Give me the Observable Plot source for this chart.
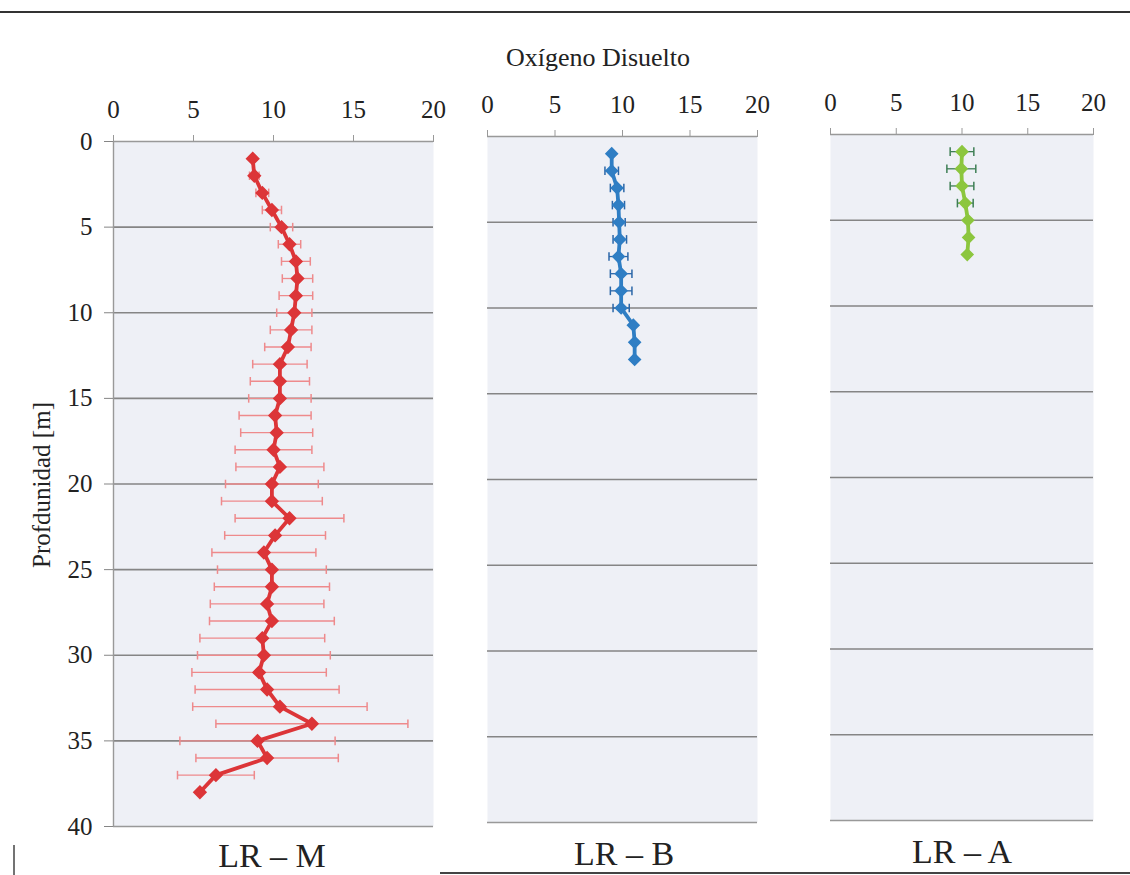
<!DOCTYPE html>
<html>
<head>
<meta charset="utf-8">
<script src="https://cdn.jsdelivr.net/npm/d3@7"></script>
<script src="https://cdn.jsdelivr.net/npm/@observablehq/plot@0.6"></script>
<style>
  html, body { margin: 0; padding: 0; background: #fff; }
  #wrap { position: relative; width: 1130px; height: 875px; overflow: hidden; font-family: "Liberation Serif", "DejaVu Serif", serif; color: #222; }
  #wrap svg { position: absolute; top: 0; }
  #wrap svg text { font-family: "Liberation Serif", serif; }
  .lbl { position: absolute; white-space: nowrap; transform: translate(-50%, -50%); }
</style>
</head>
<body>
<div id="wrap"></div>
<script>
// ---- data ----
const title = "Oxígeno Disuelto";
const yLabel = "Profdunidad [m]";
const panelNames = ["LR – M", "LR – B", "LR – A"];
const xTicks = [0, 5, 10, 15, 20];
const yTicks = [0, 5, 10, 15, 20, 25, 30, 35, 40];
const gridDepths = [5, 10, 15, 20, 25, 30, 35];

const depthM = [1,2,3,4,5,6,7,8,9,10,11,12,13,14,15,16,17,18,19,20,21,22,23,24,25,26,27,28,29,30,31,32,33,34,35,36,37,38];
const valueM = [8.7,8.8,9.3,9.9,10.5,11.0,11.4,11.5,11.4,11.3,11.1,10.9,10.4,10.4,10.4,10.1,10.2,10.0,10.4,9.9,9.9,11.0,10.1,9.4,9.9,9.9,9.6,9.9,9.3,9.4,9.1,9.6,10.4,12.4,9.0,9.6,6.4,5.4];
const errM   = [0,0.3,0.4,0.6,0.7,0.7,0.9,0.95,1.05,1.1,1.3,1.45,1.7,1.85,1.95,2.25,2.25,2.4,2.75,2.9,3.15,3.4,3.15,3.25,3.4,3.6,3.55,3.9,3.9,4.15,4.2,4.5,5.45,6.0,4.85,4.45,2.4,0];

const depthB = [1,2,3,4,5,6,7,8,9,10,11,12,13];
const valueB = [9.2,9.2,9.6,9.7,9.75,9.8,9.7,9.9,9.9,9.9,10.8,10.9,10.9];
const errB   = [0,0.5,0.5,0.45,0.45,0.5,0.7,0.8,0.8,0.6,0,0,0];

const depthA = [1,2,3,4,5,6,7];
const valueA = [10.0,9.95,10.0,10.25,10.45,10.5,10.4];
const errA   = [0.9,1.1,0.9,0.6,0,0,0];

const wrap = document.getElementById("wrap");
const serif = "Liberation Serif";

function panel(cfg) {
  const rows = cfg.depths.map((d, i) => ({depth: d, value: cfg.values[i], err: cfg.errs[i]}));
  const eb = rows.filter(r => r.err > 0);
  const marks = [
    Plot.frame({fill: "#eef0f6", stroke: null}),
    Plot.ruleY(gridDepths, {stroke: "#858585", strokeWidth: 1.6}),
    Plot.ruleY([0, 40], {stroke: "#999", strokeWidth: 1.4}),
    Plot.axisX(xTicks, {anchor: "top", tickSize: 7, tickPadding: 17, stroke: "#999", fill: "#222", fontSize: 25, fontFamily: serif, label: null})
  ];
  if (cfg.yAxis) {
    marks.push(Plot.ruleX([0], {stroke: "#999", strokeWidth: 1.4}));
    marks.push(Plot.axisY(yTicks, {anchor: "left", tickSize: 9, tickPadding: 12, stroke: "#858585", fill: "#222", fontSize: 25, fontFamily: serif, label: null}));
  }
  marks.push(
    Plot.link(eb, {x1: r => r.value - r.err, x2: r => r.value + r.err, y1: "depth", y2: "depth", stroke: cfg.errColor, strokeWidth: 1.3}),
    Plot.link(eb, {x1: r => r.value - r.err, x2: r => r.value - r.err, y1: r => r.depth - 0.25, y2: r => r.depth + 0.25, stroke: cfg.errColor, strokeWidth: 1.5}),
    Plot.link(eb, {x1: r => r.value + r.err, x2: r => r.value + r.err, y1: r => r.depth - 0.25, y2: r => r.depth + 0.25, stroke: cfg.errColor, strokeWidth: 1.5}),
    Plot.line(rows, {x: "value", y: "depth", stroke: cfg.color, strokeWidth: 3.8}),
    Plot.dot(rows, {x: "value", y: "depth", symbol: "diamond2", r: cfg.r, fill: cfg.color, stroke: cfg.color})
  );
  const svg = Plot.plot({
    width: cfg.width, height: 875,
    marginLeft: cfg.ml, marginRight: cfg.mr, marginTop: cfg.mt, marginBottom: cfg.mb,
    x: {domain: [0, 20], axis: null},
    y: {domain: [0, 40], reverse: true, axis: null},
    style: {fontFamily: serif, fontSize: "25px", background: "transparent", color: "#222", overflow: "visible"},
    marks
  });
  svg.style.left = cfg.left + "px";
  wrap.appendChild(svg);
}

panel({depths: depthM, values: valueM, errs: errM, color: "#dc3538", errColor: "#ee8a8c", r: 5.5,
       left: 0, width: 450, ml: 113, mr: 17, mt: 141, mb: 49, yAxis: true});
panel({depths: depthB, values: valueB, errs: errB, color: "#2f7ec4", errColor: "#2a66a8", r: 5.2,
       left: 450, width: 340, ml: 37, mr: 33, mt: 136, mb: 53, yAxis: false});
panel({depths: depthA, values: valueA, errs: errA, color: "#8cc63e", errColor: "#3e7f55", r: 5.2,
       left: 790, width: 340, ml: 40, mr: 37, mt: 134, mb: 55, yAxis: false});

function label(text, x, y, size, rotate) {
  const d = document.createElement("div");
  d.className = "lbl";
  d.textContent = text;
  d.style.left = x + "px";
  d.style.top = y + "px";
  d.style.fontSize = size + "px";
  if (rotate) d.style.transform = "translate(-50%, -50%) rotate(-90deg)";
  wrap.appendChild(d);
}
label(title, 598, 58, 26);
label(yLabel, 42, 485, 25, true);
label(panelNames[0], 272, 856, 34);
label(panelNames[1], 624, 854, 34);
label(panelNames[2], 962, 852, 34);

// decorative page rules from the scanned page
const deco = d3.select(wrap).append("svg").attr("width", 1130).attr("height", 875).style("left", "0px").style("pointer-events", "none");
deco.append("line").attr("x1", 0).attr("x2", 1130).attr("y1", 12).attr("y2", 12).attr("stroke", "#333").attr("stroke-width", 2);
deco.append("line").attr("x1", 440).attr("x2", 1130).attr("y1", 873).attr("y2", 873).attr("stroke", "#444").attr("stroke-width", 2);
deco.append("line").attr("x1", 14).attr("x2", 14).attr("y1", 845).attr("y2", 875).attr("stroke", "#444").attr("stroke-width", 1.5);
</script>
</body>
</html>
